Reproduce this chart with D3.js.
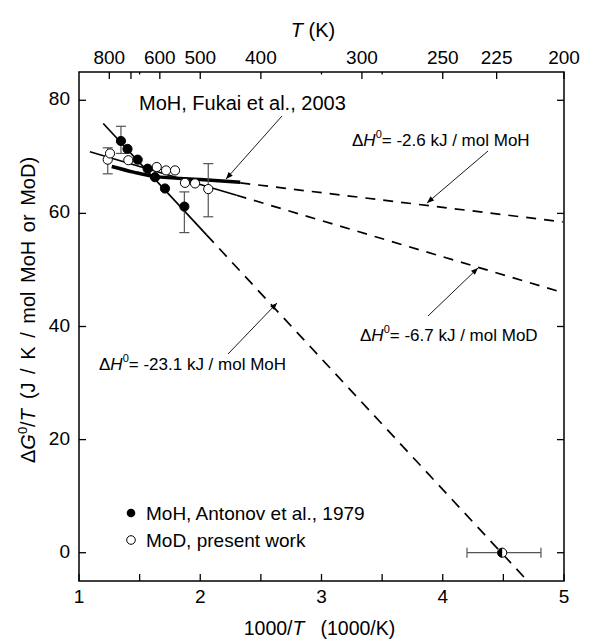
<!DOCTYPE html>
<html><head><meta charset="utf-8">
<script src="https://cdn.jsdelivr.net/npm/d3@7"></script>
<style>body{margin:0;background:#fff}text{font-family:"Liberation Sans",Arial,sans-serif;fill:#000}</style>
</head><body><svg id="c" width="608" height="642"></svg>
<script>
// ---- data ----
const mohX = [1.346, 1.40, 1.484, 1.566, 1.627, 1.709, 1.869];
const mohY = [72.8, 71.4, 69.5, 67.9, 66.4, 64.4, 61.2];
const mohErrLo = [70.6, null, null, null, null, null, 56.6];
const mohErrHi = [75.4, null, null, null, null, null, 63.8];
const modX = [1.237, 1.256, 1.407, 1.641, 1.718, 1.792, 1.874, 1.957, 2.066];
const modY = [69.5, 70.6, 69.4, 68.2, 67.6, 67.6, 65.4, 65.3, 64.3];
const modErrLo = [67.0, null, null, null, null, null, null, null, 59.4];
const modErrHi = [71.6, null, null, null, null, null, null, null, 68.8];
const fukaiX = [1.27, 1.45, 1.63, 2.0, 2.33];
const fukaiY = [68.3, 67.3, 66.5, 66.0, 65.5];
const fit23X = [1.20, 2.05, 4.70]; // solid to 2.05, dashed after
const fit23Y = [75.9, 56.25, -5.0];
const fit67X = [1.09, 2.30, 4.99];
const fit67Y = [70.9, 63.2, 46.0];
const fit26X = [2.33, 4.99];
const fit26Y = [65.4, 58.5];
const h2X = 4.49, h2Y = 0, h2XErr = [4.2, 4.81];
const bottomTicks = [1, 2, 3, 4, 5];
const bottomMinor = [1.5, 2.5, 3.5, 4.5];
const yTicks = [0, 20, 40, 60, 80];
const topT = [800, 700, 600, 500, 400, 300, 250, 225, 200];
const topLabels = ["800", "", "600", "500", "400", "300", "250", "225", "200"];
const topMinor = [1.5, 3.0, 3.5];

// ---- layout ----
const L = 79, R = 564, T = 72, B = 581;
const svg = d3.select("#c");
const x = d3.scaleLinear().domain([1, 5]).range([L, R]);
const y = d3.scaleLinear().domain([-5, 85]).range([B, T]);

svg.append("rect").attr("x", L).attr("y", T).attr("width", R - L).attr("height", B - T)
  .attr("fill", "none").attr("stroke", "#000").attr("stroke-width", 1.5);

const tl = 7;
const g = svg.append("g").attr("stroke", "#000").attr("stroke-width", 1.3);
bottomTicks.concat(bottomMinor).forEach(v => {
  g.append("line").attr("x1", x(v)).attr("x2", x(v)).attr("y1", B).attr("y2", B - tl);
});
yTicks.forEach(v => {
  g.append("line").attr("x1", L).attr("x2", L + tl).attr("y1", y(v)).attr("y2", y(v));
  g.append("line").attr("x1", R).attr("x2", R - tl).attr("y1", y(v)).attr("y2", y(v));
});
topT.forEach(t => {
  const v = 1000 / t;
  g.append("line").attr("x1", x(v)).attr("x2", x(v)).attr("y1", T).attr("y2", T + tl);
});
topMinor.forEach(v => g.append("line").attr("x1", x(v)).attr("x2", x(v)).attr("y1", T).attr("y2", T + 2.5));

const fs = 19;
bottomTicks.forEach(v => svg.append("text").attr("x", x(v)).attr("y", 603)
  .attr("text-anchor", "middle").attr("font-size", fs).text(v));
yTicks.forEach(v => svg.append("text").attr("x", L - 9).attr("y", y(v) + 5)
  .attr("text-anchor", "end").attr("font-size", fs).text(v));
topT.forEach((t, i) => svg.append("text").attr("x", x(1000 / t)).attr("y", 64)
  .attr("text-anchor", "middle").attr("font-size", fs).text(topLabels[i]));

// axis titles
const tt = svg.append("text").attr("x", 313).attr("y", 37).attr("text-anchor", "middle").attr("font-size", 20);
tt.append("tspan").attr("font-style", "italic").text("T");
tt.append("tspan").text(" (K)");
const bt = svg.append("text").attr("x", x(3) - 2).attr("y", 635).attr("text-anchor", "middle").attr("font-size", 19.5);
bt.append("tspan").text("1000/");
bt.append("tspan").attr("font-style", "italic").text("T");
bt.append("tspan").attr("dx", 16).text("(1000/K)");
const yt = svg.append("text").attr("transform", `translate(35,310) rotate(-90)`)
  .attr("text-anchor", "middle").attr("font-size", 20).attr("word-spacing", 3);
yt.append("tspan").text("\u0394");
yt.append("tspan").attr("font-style", "italic").text("G");
yt.append("tspan").attr("font-size", 13).attr("dy", -8).text("0");
yt.append("tspan").attr("dy", 8).text("/");
yt.append("tspan").attr("font-style", "italic").text("T");
yt.append("tspan").attr("dx", 10).text("(J / K / mol MoH or MoD)");

// lines
const line = d3.line().x(d => x(d[0])).y(d => y(d[1]));
const lines = svg.append("g").attr("fill", "none").attr("stroke", "#000");
lines.append("path").attr("d", line([[fit23X[0], fit23Y[0]], [fit23X[1], fit23Y[1]]])).attr("stroke-width", 1.7);
lines.append("path").attr("d", line([[fit23X[1], fit23Y[1]], [fit23X[2], fit23Y[2]]])).attr("stroke-width", 1.7).attr("stroke-dasharray", "11,8");
lines.append("path").attr("d", line([[fit67X[0], fit67Y[0]], [fit67X[1], fit67Y[1]]])).attr("stroke-width", 1.7);
lines.append("path").attr("d", line([[fit67X[1], fit67Y[1]], [fit67X[2], fit67Y[2]]])).attr("stroke-width", 1.7).attr("stroke-dasharray", "10,8");
lines.append("path").attr("d", line([[fit26X[0], fit26Y[0]], [fit26X[1], fit26Y[1]]])).attr("stroke-width", 1.7).attr("stroke-dasharray", "10,8");
lines.append("path").attr("d", d3.line().x(d => x(d[0])).y(d => y(d[1])).curve(d3.curveMonotoneX)(fukaiX.map((v, i) => [v, fukaiY[i]]))).attr("stroke-width", 3.5);

// error bars
const eb = svg.append("g").attr("stroke", "#555").attr("stroke-width", 1.2);
function vErr(cx, lo, hi) {
  eb.append("line").attr("x1", x(cx)).attr("x2", x(cx)).attr("y1", y(lo)).attr("y2", y(hi));
  [lo, hi].forEach(v => eb.append("line").attr("x1", x(cx) - 5).attr("x2", x(cx) + 5).attr("y1", y(v)).attr("y2", y(v)));
}
mohX.forEach((v, i) => { if (mohErrLo[i] != null) vErr(v, mohErrLo[i], mohErrHi[i]); });
modX.forEach((v, i) => { if (modErrLo[i] != null) vErr(v, modErrLo[i], modErrHi[i]); });
eb.append("line").attr("x1", x(h2XErr[0])).attr("x2", x(h2XErr[1])).attr("y1", y(h2Y)).attr("y2", y(h2Y));
h2XErr.forEach(v => eb.append("line").attr("x1", x(v)).attr("x2", x(v)).attr("y1", y(h2Y) - 5).attr("y2", y(h2Y) + 5));

// points
const r = 4.6;
modX.forEach((v, i) => svg.append("circle").attr("cx", x(v)).attr("cy", y(modY[i])).attr("r", r)
  .attr("fill", "#fff").attr("stroke", "#000").attr("stroke-width", 1));
mohX.forEach((v, i) => svg.append("circle").attr("cx", x(v)).attr("cy", y(mohY[i])).attr("r", r)
  .attr("fill", "#000").attr("stroke", "#000").attr("stroke-width", 1));
const hx = x(h2X), hy = y(h2Y);
svg.append("circle").attr("cx", hx).attr("cy", hy).attr("r", r).attr("fill", "#fff").attr("stroke", "#000");
svg.append("path").attr("d", `M${hx},${hy - r} A${r},${r} 0 0 0 ${hx},${hy + r} Z`).attr("fill", "#000");

// legend
svg.append("circle").attr("cx", 131).attr("cy", 513).attr("r", 4.3).attr("fill", "#000");
svg.append("text").attr("x", 146).attr("y", 519.5).attr("font-size", 19).text("MoH, Antonov et al., 1979");
svg.append("circle").attr("cx", 131).attr("cy", 540).attr("r", 4.3).attr("fill", "#fff").attr("stroke", "#000");
svg.append("text").attr("x", 146).attr("y", 546.5).attr("font-size", 19).text("MoD, present work");

// annotations
const defs = svg.append("defs");
defs.append("marker").attr("id", "ah").attr("viewBox", "0 0 10 10").attr("refX", 10).attr("refY", 5)
  .attr("markerWidth", 9).attr("markerHeight", 7).attr("orient", "auto").attr("markerUnits", "userSpaceOnUse")
  .append("path").attr("d", "M0,1 L10,5 L0,9 Z").attr("fill", "#000");
function arrowPx(x1, y1, x2, y2) {
  svg.append("line").attr("x1", x1).attr("y1", y1).attr("x2", x2).attr("y2", y2)
    .attr("stroke", "#000").attr("stroke-width", 0.9).attr("marker-end", "url(#ah)");
}
svg.append("text").attr("x", 139).attr("y", 110).attr("font-size", 20).text("MoH, Fukai et al., 2003");
arrowPx(282, 116, 226, 179);

function dh(xp, yp, val, unit) {
  const t = svg.append("text").attr("x", xp).attr("y", yp).attr("font-size", 17);
  t.append("tspan").text("\u0394");
  t.append("tspan").attr("font-style", "italic").text("H");
  t.append("tspan").attr("font-size", 11).attr("dy", -8).text("0");
  t.append("tspan").attr("dy", 8).text("= " + val + " kJ / mol " + unit);
}
dh(352, 146, "-2.6", "MoH");
arrowPx(488, 151, 427, 203);
dh(360, 341, "-6.7", "MoD");
arrowPx(428, 316, 478, 268);
dh(99, 370, "-23.1", "MoH");
arrowPx(228, 354, 277, 303);
</script></body></html>
